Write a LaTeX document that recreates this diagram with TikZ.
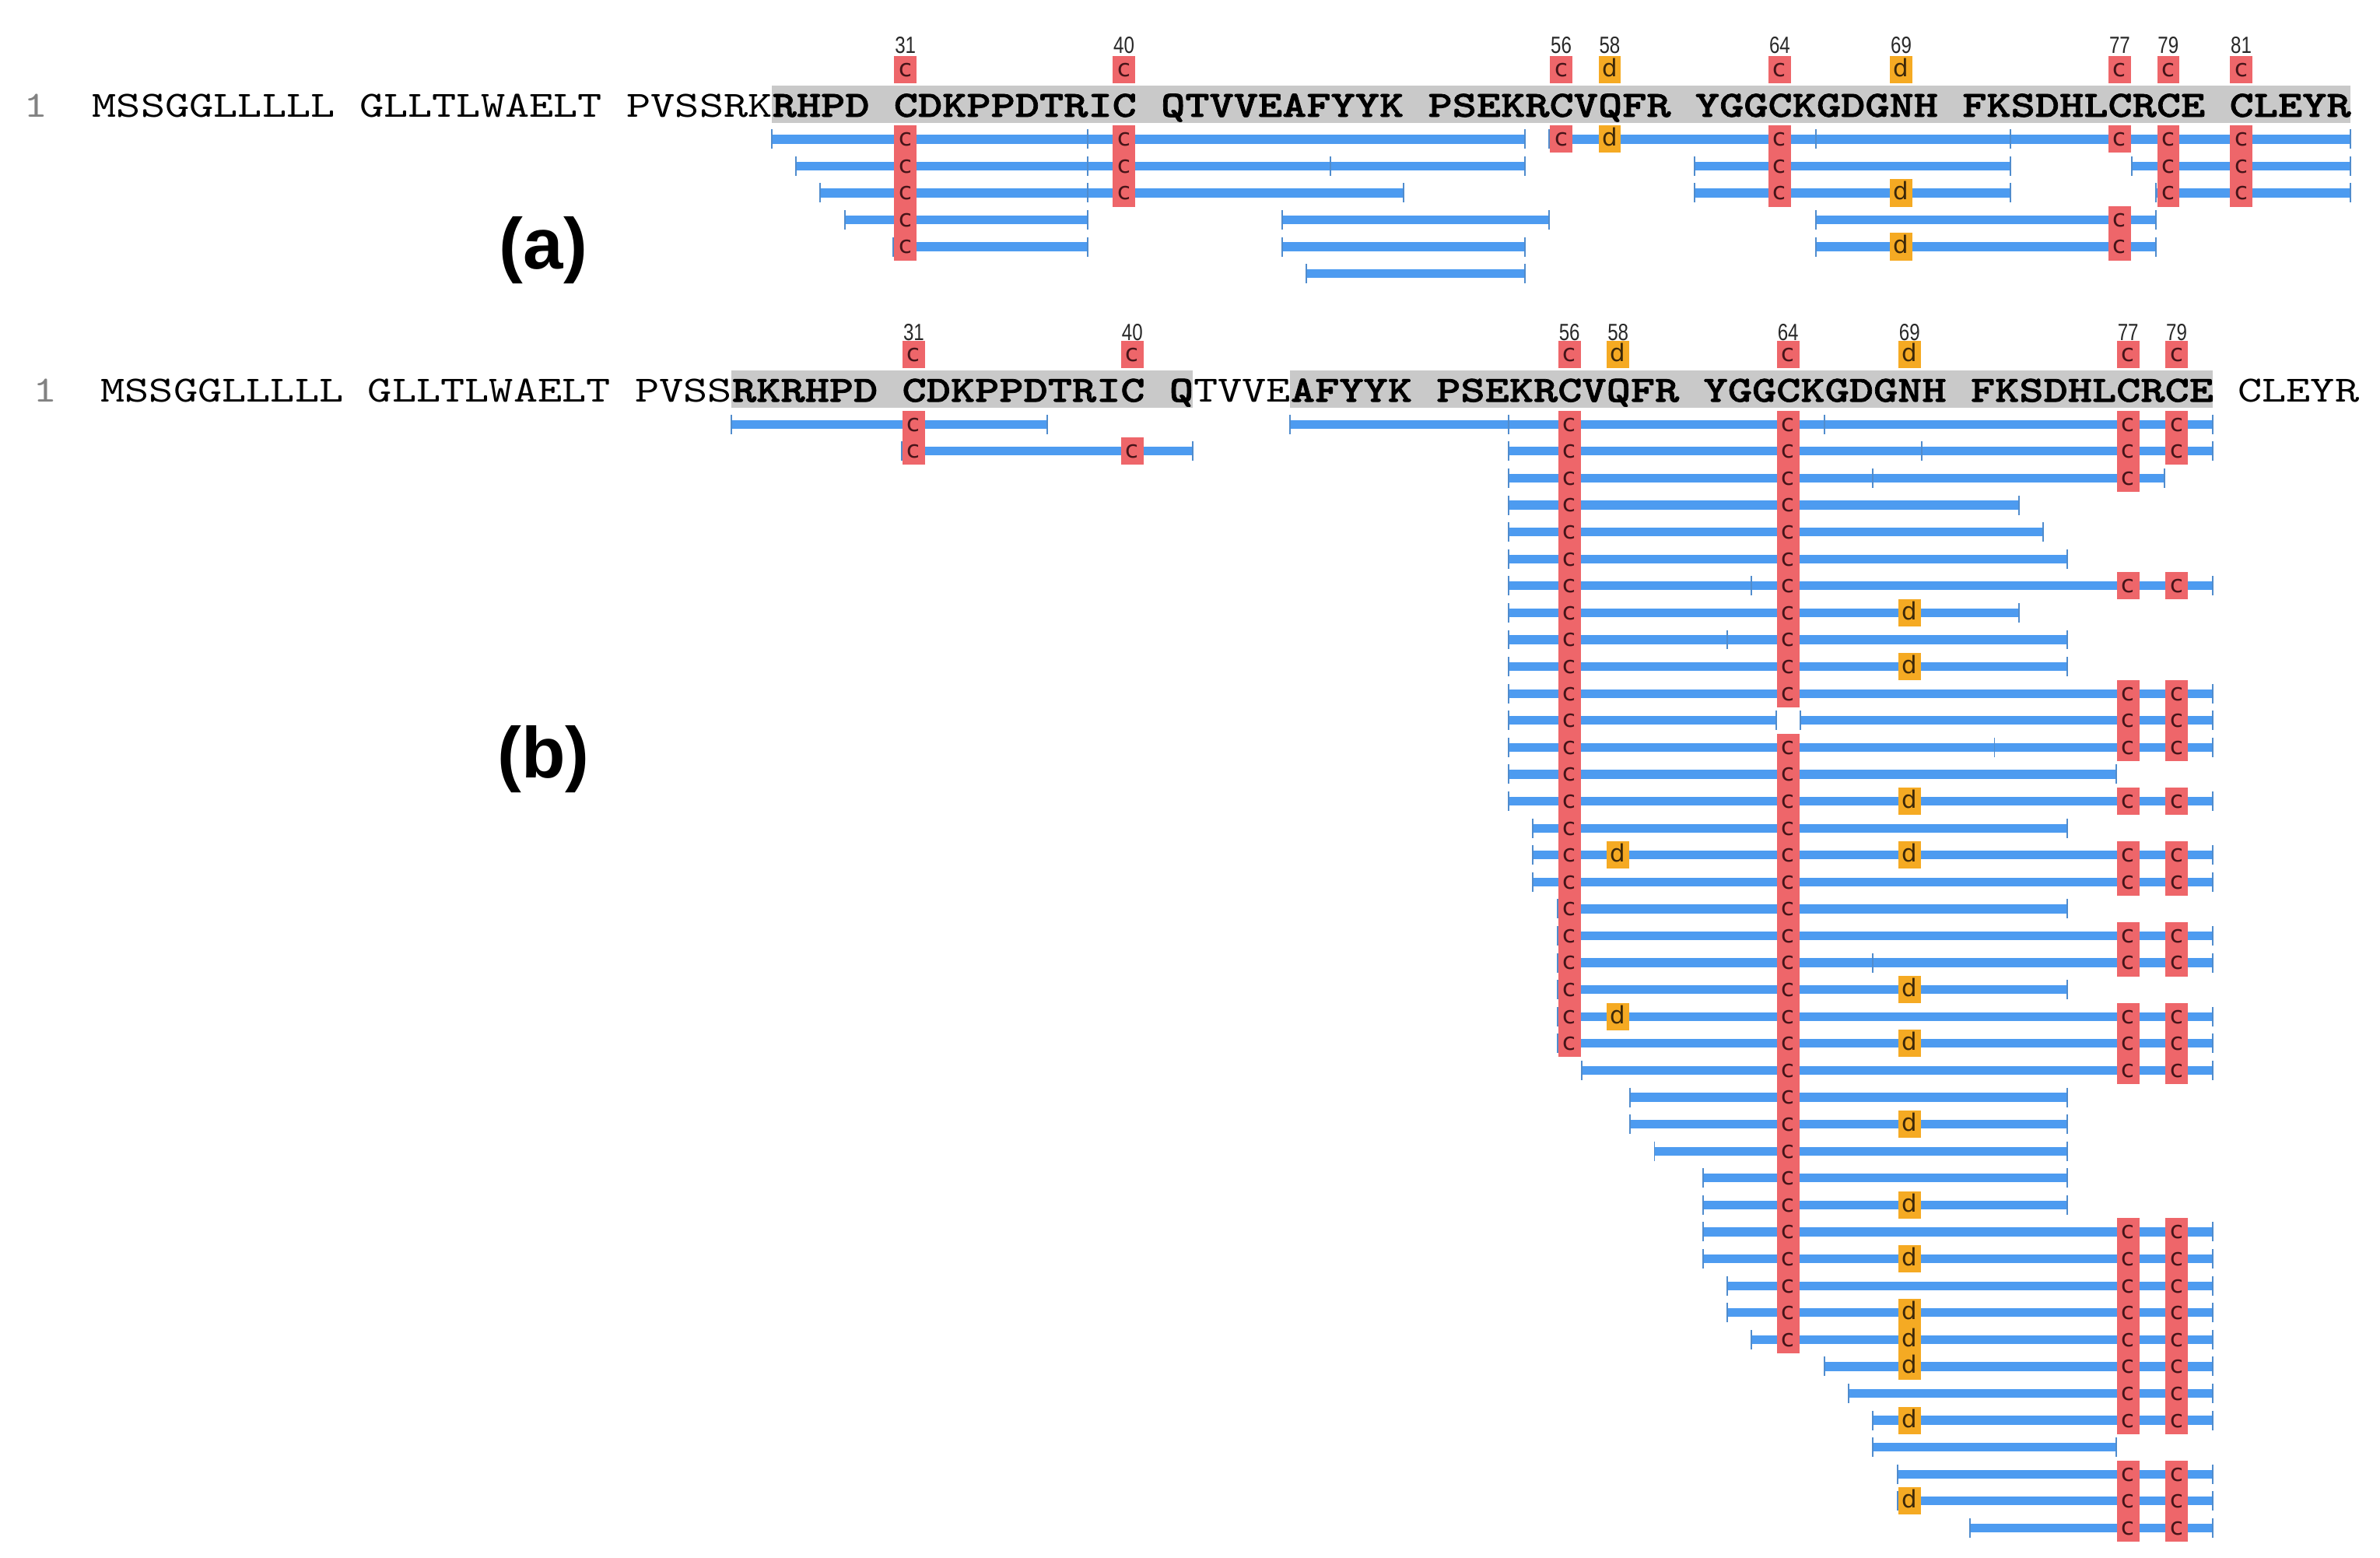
\documentclass[tikz,border=0pt]{standalone}
\usepackage{fontspec}
\setmainfont{Liberation Sans}
\newfontfamily\seqreg{lmmono10-regular.otf}[FakeStretch=1.25]
\newfontfamily\seqbf{lmmonolt10-bold.otf}[FakeStretch=1.25,FakeBold=1.5]
\newfontfamily\numfont{Liberation Sans}[FakeStretch=0.8]
\newfontfamily\boxfont{DejaVu Sans}
\definecolor{barblue}{RGB}{77,155,240}
\definecolor{tickblue}{RGB}{80,140,205}
\definecolor{cred}{RGB}{238,102,106}
\definecolor{dorange}{RGB}{245,170,35}
\definecolor{ctext}{RGB}{70,20,25}
\definecolor{dtext}{RGB}{60,40,10}
\definecolor{hlgray}{RGB}{201,201,201}
\definecolor{numgray}{RGB}{40,40,40}
\definecolor{onegray}{RGB}{130,130,130}
\tikzset{
  pepbar/.style={line width=1.15mm, draw=barblue},
  peptick/.style={line width=0.2mm, draw=tickblue},
  resbox/.style={minimum width=2.95mm, minimum height=3.6mm, inner sep=0pt,
     font={\boxfont\fontsize{9}{9}\selectfont}, text height=5.2pt, text depth=0pt},
  cbox/.style={resbox, fill=cred, text=ctext},
  dbox/.style={resbox, fill=dorange, text=dtext},
  numlab/.style={inner sep=0pt, text=numgray, font={\numfont\fontsize{8.8}{8.8}\selectfont}},
  seqr/.style={inner sep=0pt, anchor=base west, font={\seqreg\fontsize{13.87}{14}\selectfont}},
  seqb/.style={inner sep=0pt, anchor=base west, font={\seqbf\fontsize{13.87}{14}\selectfont}},
  panellab/.style={inner sep=0pt, font={\bfseries\fontsize{27}{27}\selectfont}},
  hl/.style={fill=hlgray},
}
% residue helpers (use \xo, \yo, \pitch, \pfx set in the picture)
\newcommand\pbar[3]{%
  \draw[pepbar] ({\xo+16*col(#2)-8},{\yo+\pitch*(#1-1)}) -- ({\xo+16*col(#3)+8},{\yo+\pitch*(#1-1)});
  \draw[peptick] ({\xo+16*col(#2)-8},{\yo+\pitch*(#1-1)-6.4}) -- ++(0,12.8);
  \draw[peptick] ({\xo+16*col(#3)+8},{\yo+\pitch*(#1-1)-6.4}) -- ++(0,12.8);}
\newcommand\ptick[2]{%
  \draw[peptick] ({\xo+16*col(#2)+8},{\yo+\pitch*(#1-1)-6.4}) -- ++(0,12.8);}
\newcommand\pc[2]{\node[cbox] (\pfx c#1-#2) at ({\xo+16*col(#2)},{\yo+\pitch*(#1-1)}) {c};}
\newcommand\pd[2]{\node[dbox] (\pfx d#1-#2) at ({\xo+16*col(#2)},{\yo+\pitch*(#1-1)}) {d};}
\newcommand\toplab[3]{%
  \node[numlab] (\pfx n#1) at ({\xo+16*col(#1)},\ylab) {#1};
  \node[#2box] (\pfx t#1) at ({\xo+16*col(#1)},\ytop) {#3};}
\newcommand\seqgrp[4]{\node[#1] (\pfx g#2) at ({\xo+16*#2-8},\ybase) {#3#4};}
\begin{document}
\begin{tikzpicture}[x=0.2mm,y=-0.2mm, declare function={col(\r)=\r-1+floor((\r-1)/10);}]
\useasboundingbox (0,0) rectangle (1568,1026);
%% ================= panel (a)
\def\pfx{a}\def\xo{68.5}\def\yo{91.7}\def\pitch{17.7}
\def\ylab{30}\def\ytop{46}\def\ybase{76.9}
\fill[hl] ({\xo+16*col(27)-8},56.5) rectangle ({\xo+16*col(85)+8},81);
\node[seqr, text=onegray] (aone) at (15.5,\ybase) {1};
\seqgrp{seqr}{0}{MSSGGLLLLL}{}
\seqgrp{seqr}{11}{GLLTLWAELT}{}
\seqgrp{seqr}{22}{PVSSRK}{}
\seqgrp{seqb}{28}{RHPD}{}
\seqgrp{seqb}{33}{CDKPPDTRIC}{}
\seqgrp{seqb}{44}{QTVVEAFYYK}{}
\seqgrp{seqb}{55}{PSEKRCVQFR}{}
\seqgrp{seqb}{66}{YGGCKGDGNH}{}
\seqgrp{seqb}{77}{FKSDHLCRCE}{}
\seqgrp{seqb}{88}{CLEYR}{}
\toplab{31}{c}{c}\toplab{40}{c}{c}\toplab{56}{c}{c}\toplab{58}{d}{d}
\toplab{64}{c}{c}\toplab{69}{d}{d}\toplab{77}{c}{c}\toplab{79}{c}{c}\toplab{81}{c}{c}
\pbar{1}{27}{54}\ptick{1}{38}\pbar{1}{56}{85}\ptick{1}{65}\ptick{1}{72}
\pc{1}{31}\pc{1}{40}\pc{1}{56}\pd{1}{58}\pc{1}{64}\pc{1}{77}\pc{1}{79}\pc{1}{81}
\pbar{2}{28}{54}\ptick{2}{38}\ptick{2}{47}\pbar{2}{61}{72}\pbar{2}{78}{85}
\pc{2}{31}\pc{2}{40}\pc{2}{64}\pc{2}{79}\pc{2}{81}
\pbar{3}{29}{50}\ptick{3}{38}\pbar{3}{61}{72}\pbar{3}{79}{85}
\pc{3}{31}\pc{3}{40}\pc{3}{64}\pd{3}{69}\pc{3}{79}\pc{3}{81}
\pbar{4}{30}{38}\pbar{4}{46}{55}\pbar{4}{66}{78}
\pc{4}{31}\pc{4}{77}
\pbar{5}{31}{38}\pbar{5}{46}{54}\pbar{5}{66}{78}
\pc{5}{31}\pd{5}{69}\pc{5}{77}
\pbar{6}{47}{54}
\node[panellab] (alab) at (358,165) {(a)};
%% ================= panel (b)
\def\pfx{b}\def\xo{74}\def\yo{279.5}\def\pitch{17.73}
\def\ylab{218.7}\def\ytop{233.5}\def\ybase{264.6}
\fill[hl] ({\xo+16*col(25)-8},244) rectangle ({\xo+16*col(41)+8},268.5);
\fill[hl] ({\xo+16*col(46)-8},244) rectangle ({\xo+16*col(80)+8},268.5);
\node[seqr, text=onegray] (bone) at (21.5,\ybase) {1};
\seqgrp{seqr}{0}{MSSGGLLLLL}{}
\seqgrp{seqr}{11}{GLLTLWAELT}{}
\seqgrp{seqr}{22}{PVSS}{}
\seqgrp{seqb}{26}{RKRHPD}{}
\seqgrp{seqb}{33}{CDKPPDTRIC}{}
\seqgrp{seqb}{44}{Q}{}
\seqgrp{seqr}{45}{TVVE}{}
\seqgrp{seqb}{49}{AFYYK}{}
\seqgrp{seqb}{55}{PSEKRCVQFR}{}
\seqgrp{seqb}{66}{YGGCKGDGNH}{}
\seqgrp{seqb}{77}{FKSDHLCRCE}{}
\seqgrp{seqr}{88}{CLEYR}{}
\toplab{31}{c}{c}\toplab{40}{c}{c}\toplab{56}{c}{c}\toplab{58}{d}{d}
\toplab{64}{c}{c}\toplab{69}{d}{d}\toplab{77}{c}{c}\toplab{79}{c}{c}
% rows
\pbar{1}{25}{36}\pbar{1}{46}{80}\ptick{1}{53}\ptick{1}{65}
\pc{1}{31}\pc{1}{56}\pc{1}{64}\pc{1}{77}\pc{1}{79}
\pbar{2}{31}{41}\pbar{2}{54}{80}\ptick{2}{69}
\pc{2}{31}\pc{2}{40}\pc{2}{56}\pc{2}{64}\pc{2}{77}\pc{2}{79}
\pbar{3}{54}{78}\ptick{3}{67}\pc{3}{56}\pc{3}{64}\pc{3}{77}
\pbar{4}{54}{72}\pc{4}{56}\pc{4}{64}
\pbar{5}{54}{73}\pc{5}{56}\pc{5}{64}
\pbar{6}{54}{74}\pc{6}{56}\pc{6}{64}
\pbar{7}{54}{80}\ptick{7}{62}\pc{7}{56}\pc{7}{64}\pc{7}{77}\pc{7}{79}
\pbar{8}{54}{72}\pc{8}{56}\pc{8}{64}\pd{8}{69}
\pbar{9}{54}{74}\ptick{9}{61}\pc{9}{56}\pc{9}{64}
\pbar{10}{54}{74}\pc{10}{56}\pc{10}{64}\pd{10}{69}
\pbar{11}{54}{80}\pc{11}{56}\pc{11}{64}\pc{11}{77}\pc{11}{79}
\pbar{12}{54}{63}\pbar{12}{65}{80}\pc{12}{56}\pc{12}{77}\pc{12}{79}
\pbar{13}{54}{80}\ptick{13}{71}\pc{13}{56}\pc{13}{64}\pc{13}{77}\pc{13}{79}
\pbar{14}{54}{76}\pc{14}{56}\pc{14}{64}
\pbar{15}{54}{80}\pc{15}{56}\pc{15}{64}\pd{15}{69}\pc{15}{77}\pc{15}{79}
\pbar{16}{55}{74}\pc{16}{56}\pc{16}{64}
\pbar{17}{55}{80}\pc{17}{56}\pd{17}{58}\pc{17}{64}\pd{17}{69}\pc{17}{77}\pc{17}{79}
\pbar{18}{55}{80}\pc{18}{56}\pc{18}{64}\pc{18}{77}\pc{18}{79}
\pbar{19}{56}{74}\pc{19}{56}\pc{19}{64}
\pbar{20}{56}{80}\pc{20}{56}\pc{20}{64}\pc{20}{77}\pc{20}{79}
\pbar{21}{56}{80}\ptick{21}{67}\pc{21}{56}\pc{21}{64}\pc{21}{77}\pc{21}{79}
\pbar{22}{56}{74}\pc{22}{56}\pc{22}{64}\pd{22}{69}
\pbar{23}{56}{80}\pc{23}{56}\pd{23}{58}\pc{23}{64}\pc{23}{77}\pc{23}{79}
\pbar{24}{56}{80}\pc{24}{56}\pc{24}{64}\pd{24}{69}\pc{24}{77}\pc{24}{79}
\pbar{25}{57}{80}\pc{25}{64}\pc{25}{77}\pc{25}{79}
\pbar{26}{59}{74}\pc{26}{64}
\pbar{27}{59}{74}\pc{27}{64}\pd{27}{69}
\pbar{28}{60}{74}\pc{28}{64}
\pbar{29}{61}{74}\pc{29}{64}
\pbar{30}{61}{74}\pc{30}{64}\pd{30}{69}
\pbar{31}{61}{80}\pc{31}{64}\pc{31}{77}\pc{31}{79}
\pbar{32}{61}{80}\pc{32}{64}\pd{32}{69}\pc{32}{77}\pc{32}{79}
\pbar{33}{62}{80}\pc{33}{64}\pc{33}{77}\pc{33}{79}
\pbar{34}{62}{80}\pc{34}{64}\pd{34}{69}\pc{34}{77}\pc{34}{79}
\pbar{35}{63}{80}\pc{35}{64}\pd{35}{69}\pc{35}{77}\pc{35}{79}
\pbar{36}{66}{80}\pd{36}{69}\pc{36}{77}\pc{36}{79}
\pbar{37}{67}{80}\pc{37}{77}\pc{37}{79}
\pbar{38}{68}{80}\pd{38}{69}\pc{38}{77}\pc{38}{79}
\pbar{39}{68}{76}
\pbar{40}{69}{80}\pc{40}{77}\pc{40}{79}
\pbar{41}{69}{80}\pd{41}{69}\pc{41}{77}\pc{41}{79}
\pbar{42}{71}{80}\pc{42}{77}\pc{42}{79}
\node[panellab] (blab) at (358,500) {(b)};
\end{tikzpicture}
\end{document}
